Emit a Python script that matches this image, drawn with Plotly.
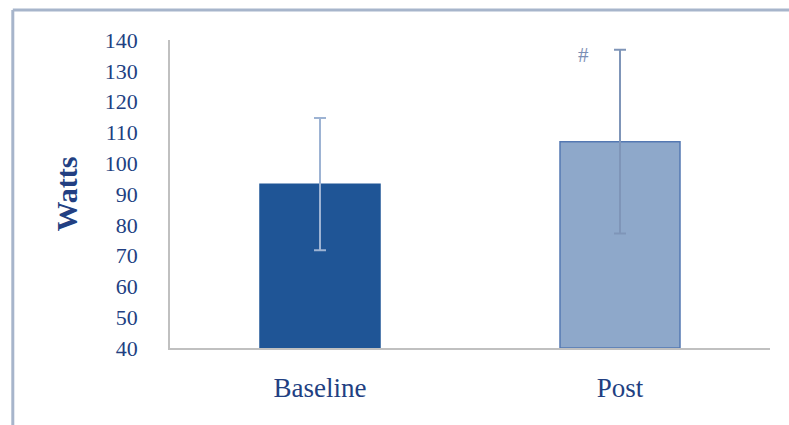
import plotly.graph_objects as go

# Power output (W) at the two test points
categories = ["Baseline", "Post"]
mean_watts = [93.2, 107.0]
sd_watts = [21.5, 29.8]
bar_colors = ["#1F5596", "#8EA8CA"]
bar_lines = ["#1F5596", "#5478B2"]
err_colors = ["#9DB3D3", "#7F95B8"]
y_ticks = [40, 50, 60, 70, 80, 90, 100, 110, 120, 130, 140]

navy = "#223F82"
serif = "Liberation Serif, Times New Roman, serif"

fig = go.Figure()
for cat, m, s, fc, lc, ec in zip(categories, mean_watts, sd_watts, bar_colors, bar_lines, err_colors):
    fig.add_trace(go.Bar(
        x=[cat], y=[m - 40], base=40,
        width=0.4,
        marker=dict(color=fc, line=dict(color=lc, width=1.5)),
        error_y=dict(type="data", array=[s], visible=True,
                     color=ec, thickness=2, width=6),
        showlegend=False,
    ))

# significance marker above the Post bar
fig.add_annotation(x="Post", y=135.2, text="#", showarrow=False,
                   xshift=-37, font=dict(family=serif, size=21, color="#7C8FB4"))

# outer frame of the figure panel
frame = "#A7B5CB"
fig.add_shape(type="line", xref="paper", yref="paper",
              x0=-0.262, x1=-0.262, y0=1.097, y1=-0.26,
              line=dict(color=frame, width=3))
fig.add_shape(type="line", xref="paper", yref="paper",
              x0=-0.262, x1=1.04, y0=1.097, y1=1.097,
              line=dict(color=frame, width=3))

fig.update_layout(
    width=789, height=425,
    margin=dict(l=170, r=19, t=40, b=77),
    paper_bgcolor="white", plot_bgcolor="white",
    bargap=0.6,
    font=dict(family=serif, color=navy),
)
fig.update_xaxes(
    showline=True, linecolor="#C0C0C0", linewidth=1.5,
    showgrid=False, ticks="", ticklabelstandoff=15,
    tickfont=dict(family=serif, size=27, color=navy),
)
fig.update_yaxes(
    range=[40, 140], tickvals=y_ticks,
    showline=True, linecolor="#C0C0C0", linewidth=1.5,
    showgrid=False, ticks="", ticklabelstandoff=26,
    tickfont=dict(family=serif, size=22, color=navy),
    title=dict(text="<b>Watts</b>", standoff=18,
               font=dict(family=serif, size=30, color=navy)),
)

fig.write_html("out.html")
